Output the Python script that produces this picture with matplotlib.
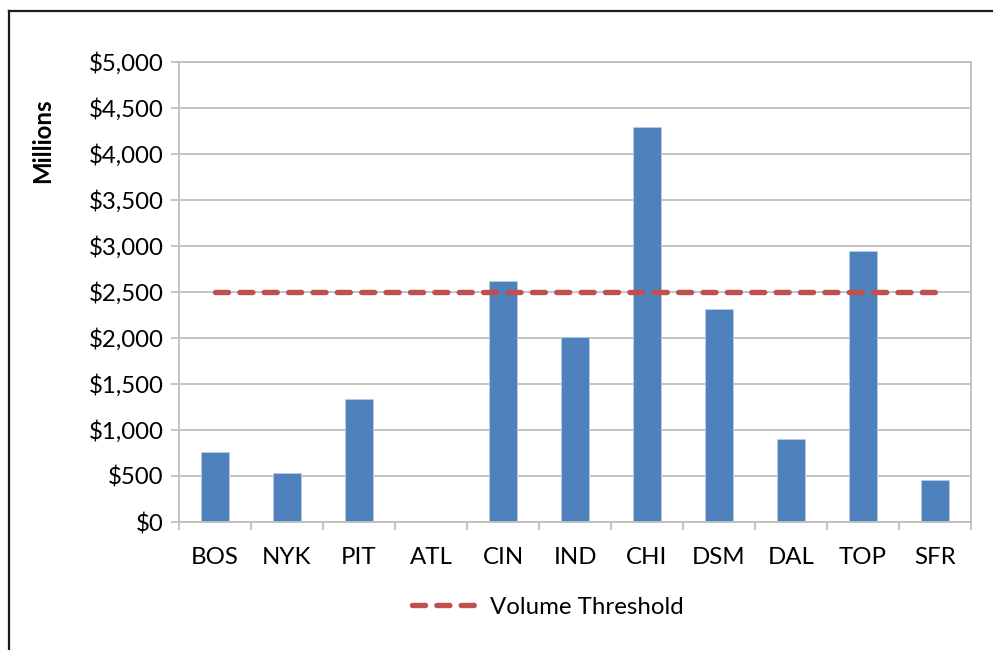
import matplotlib
matplotlib.use("Agg")
import matplotlib.pyplot as plt
from matplotlib.lines import Line2D
from matplotlib.ticker import FuncFormatter, FixedLocator

plt.rcParams['font.family'] = ['Lato', 'DejaVu Sans']

categories = ["BOS", "NYK", "PIT", "ATL", "CIN", "IND", "CHI", "DSM", "DAL", "TOP", "SFR"]
volumes = [760, 530, 1340, 0, 2620, 2015, 4290, 2315, 900, 2945, 460]
threshold = [2500] * len(categories)
yticks = [0, 500, 1000, 1500, 2000, 2500, 3000, 3500, 4000, 4500, 5000]

W, H = 993, 650
FS = 17.3
fig = plt.figure(figsize=(W / 100, H / 100), dpi=100)
fig.patch.set_facecolor("white")

# outer chart frame (only top/left visible)
fig.add_artist(Line2D([9 / W, 9 / W], [-0.1, 1 - 11 / H], transform=fig.transFigure,
                      color="#1a1a1a", lw=1.6))
fig.add_artist(Line2D([9 / W, 1.1], [1 - 11 / H, 1 - 11 / H], transform=fig.transFigure,
                      color="#1a1a1a", lw=1.6))

ax = fig.add_axes([179 / W, 1 - 522 / H, (971 - 179) / W, (522 - 62) / H])
x = list(range(len(categories)))
ax.bar(x, volumes, width=0.4, color="#4F81BD", edgecolor="#B9CDE5", linewidth=0.6, zorder=2)

ln, = ax.plot(x, threshold, color="#C0504D", lw=3.9, solid_capstyle="round",
              dash_capstyle="round", zorder=3, label="Volume Threshold")
ln.set_dashes((2.4, 2.1))

ax.set_xlim(-0.5, len(categories) - 0.5)
ax.set_ylim(0, 5000)
ax.yaxis.set_major_locator(FixedLocator(yticks))
ax.yaxis.set_major_formatter(FuncFormatter(lambda v, p: "${:,.0f}".format(v)))
ax.set_xticks(x)
ax.set_xticklabels(categories)
ax.set_xticks([i - 0.5 for i in range(len(categories) + 1)], minor=True)

ax.grid(axis="y", color="#BFBFBF", lw=1.3, zorder=0)
for s in ax.spines.values():
    s.set_color("#BFBFBF")
    s.set_linewidth(1.3)

ax.tick_params(axis="x", which="major", length=0, pad=18, labelsize=FS, colors="black")
ax.tick_params(axis="x", which="minor", length=6, width=1.3, color="#BFBFBF", direction="out")
ax.tick_params(axis="y", length=6, width=1.3, color="#BFBFBF", pad=5, labelsize=FS,
               labelcolor="black")

ax.set_ylabel("Millions", fontsize=FS, fontweight="bold")
ax.yaxis.set_label_coords(-0.158, 0.83)

leg = fig.legend(handles=[ln], loc="center", bbox_to_anchor=(548 / W, 1 - 607 / H),
                 frameon=False, fontsize=FS, handlelength=2.75, handletextpad=0.5)

fig.savefig("out.png", dpi=100, facecolor="white")
